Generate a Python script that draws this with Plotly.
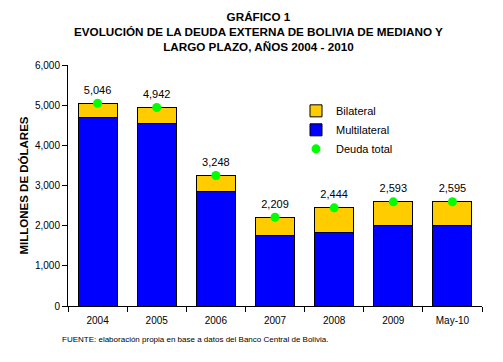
import plotly.graph_objects as go

categories = ["2004", "2005", "2006", "2007", "2008", "2009", "May-10"]
multilateral = [4697, 4548, 2855, 1743, 1825, 2009, 2009]
total = [5046, 4942, 3248, 2209, 2444, 2593, 2595]
bilateral = [t - m for t, m in zip(total, multilateral)]
total_labels = [f"{v:,}" for v in total]

FONT = "Liberation Sans, Arial, sans-serif"

fig = go.Figure()
fig.add_trace(go.Bar(
    x=categories, y=multilateral, name="Multilateral",
    marker=dict(color="#0000FF", line=dict(color="black", width=1)),
    width=0.66, legendrank=2,
))
fig.add_trace(go.Bar(
    x=categories, y=bilateral, name="Bilateral",
    marker=dict(color="#FFCC00", line=dict(color="black", width=1)),
    width=0.66, legendrank=1,
))
fig.add_trace(go.Scatter(
    x=categories, y=total, name="Deuda total", mode="markers+text",
    marker=dict(color="#00FF00", size=9),
    text=total_labels, textposition="top center",
    textfont=dict(size=11, color="black", family=FONT),
    legendrank=3,
))

L, R, T, B = 68, 21, 65, 56
W, H = 503, 362
pw, ph = W - L - R, H - T - B

fig.update_layout(
    barmode="stack",
    width=W, height=H,
    margin=dict(l=L, r=R, t=T, b=B),
    paper_bgcolor="white", plot_bgcolor="white",
    font=dict(family=FONT, size=10, color="black"),
    showlegend=True,
    legend=dict(x=(296 - L) / pw, y=0.87, xanchor="left", yanchor="top",
                traceorder="normal",
                font=dict(size=11, family=FONT), bgcolor="rgba(0,0,0,0)",
                itemwidth=30, tracegroupgap=0),
    xaxis=dict(type="category", range=[-0.5, 6.5], showline=True,
               linecolor="black", linewidth=1, ticks="outside",
               tickson="boundaries", ticklen=5, tickcolor="black",
               ticklabelstandoff=5,
               showgrid=False, tickfont=dict(size=10)),
    yaxis=dict(range=[0, 6000], dtick=1000, tickformat=",",
               showline=True, linecolor="black", linewidth=1,
               ticks="outside", ticklen=5, tickcolor="black",
               showgrid=False, zeroline=False, tickfont=dict(size=10),
               title=dict(text="<b>MILLONES DE DÓLARES</b>",
                          font=dict(size=11.5), standoff=3)),
    annotations=[
        dict(text="<b>GRÁFICO 1<br>EVOLUCIÓN DE LA DEUDA EXTERNA DE BOLIVIA DE MEDIANO Y<br>LARGO PLAZO, AÑOS 2004 - 2010</b>",
             x=(258 - L) / pw, y=(H - B - 8) / ph, xref="paper", yref="paper",
             showarrow=False, font=dict(size=11.7), align="center",
             xanchor="center", yanchor="top"),
        dict(text="FUENTE: elaboración propia en base a datos del Banco Central de Bolivia.",
             x=(60 - L) / pw, y=-(333 - (H - B)) / ph, xref="paper", yref="paper",
             showarrow=False, font=dict(size=8), xanchor="left", yanchor="top"),
    ],
)

fig.write_html("out.html", config={"displayModeBar": False},
               post_script="document.body.style.margin='0';")
